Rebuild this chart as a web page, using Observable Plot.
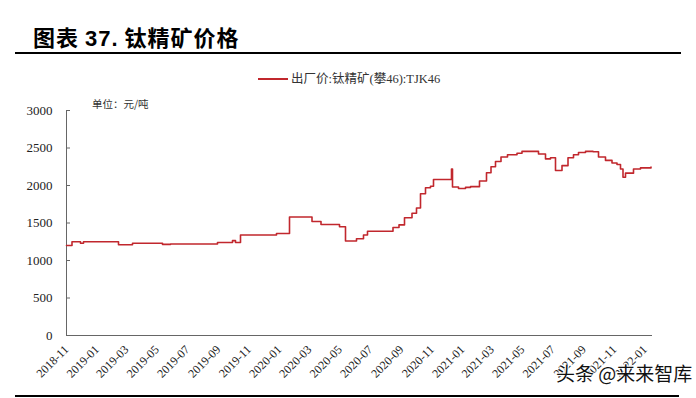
<!DOCTYPE html>
<html><head><meta charset="utf-8">
<script src="https://cdn.jsdelivr.net/npm/d3@7"></script>
<script src="https://cdn.jsdelivr.net/npm/@observablehq/plot@0.6"></script>
<style>
body{margin:0;background:#fff;}
#wrap{position:relative;width:696px;height:398px;overflow:hidden;background:#fff;}
#title{position:absolute;left:33px;top:22px;font-family:"Noto Sans CJK SC",sans-serif;font-weight:bold;font-size:22px;color:#000;line-height:28px;letter-spacing:1px;}
#title .num{font-family:"Liberation Sans",Arial,sans-serif;}
#topline{position:absolute;left:15px;top:52px;width:666px;height:2px;background:#000;}
#botline{position:absolute;left:15px;top:395px;width:664px;height:2px;background:#000;}
#legend{position:absolute;left:258px;top:71px;font-family:"Liberation Serif","Noto Sans CJK SC",serif;font-size:12.5px;color:#333;line-height:16px;white-space:nowrap;}
#legend .sw{display:inline-block;width:30px;height:2px;background:#c1272d;vertical-align:middle;margin-right:3px;position:relative;top:-1px;}
#unit{position:absolute;left:92px;top:96px;font-family:"Noto Sans CJK SC",sans-serif;font-size:10.5px;color:#333;white-space:nowrap;}
#wm{position:absolute;left:556px;top:359px;font-family:"Noto Sans CJK SC",sans-serif;font-size:19px;color:#111;white-space:nowrap;text-shadow:0 0 2px #fff,0 0 2px #fff,1px 1px 0 #fff,-1px -1px 0 #fff;}
#chart{position:absolute;left:0;top:0;}
</style></head><body>
<div id="wrap">
<div id="chart"></div>
<div id="title">图表 <span class="num">37.</span> 钛精矿价格</div>
<div id="topline"></div>
<div id="legend"><span class="sw"></span>出厂价:钛精矿(攀46):TJK46</div>
<div id="unit">单位：元/吨</div>
<div id="botline"></div>
<div id="wm">头条 @来来智库</div>
</div>
<script>
const dates = ["2018-11-01","2018-11-12","2018-11-29","2018-12-05","2019-02-13","2019-03-13","2019-05-12","2019-05-28","2019-08-30","2019-09-29","2019-10-05","2019-10-15","2019-12-26","2020-01-21","2020-03-06","2020-03-24","2020-04-30","2020-05-12","2020-06-03","2020-06-17","2020-06-25","2020-08-15","2020-08-27","2020-09-07","2020-09-22","2020-10-01","2020-10-09","2020-10-19","2020-10-29","2020-11-04","2020-12-10","2020-12-12","2020-12-24","2021-01-07","2021-01-17","2021-02-04","2021-02-18","2021-02-27","2021-03-08","2021-03-19","2021-04-01","2021-04-20","2021-04-30","2021-06-02","2021-06-16","2021-06-26","2021-07-06","2021-07-19","2021-07-31","2021-08-11","2021-08-21","2021-09-04","2021-09-19","2021-09-30","2021-10-14","2021-10-27","2021-11-06","2021-11-13","2021-11-18","2021-11-23","2021-12-09","2021-12-23","2022-01-13"];
const prices = [1200,1250,1230,1250,1210,1230,1215,1220,1240,1265,1240,1340,1360,1580,1520,1480,1450,1260,1290,1340,1390,1440,1475,1570,1630,1700,1890,1970,1990,2080,2220,1980,1960,1975,1985,2060,2170,2250,2320,2380,2410,2430,2455,2420,2355,2370,2200,2265,2370,2410,2440,2455,2450,2380,2335,2300,2280,2220,2110,2165,2220,2235,2245];
const tickLabels = ["2018-11","2019-01","2019-03","2019-05","2019-07","2019-09","2019-11","2020-01","2020-03","2020-05","2020-07","2020-09","2020-11","2021-01","2021-03","2021-05","2021-07","2021-09","2021-11","2022-01"];
const yTicks = [0,500,1000,1500,2000,2500,3000];
const xStart = "2018-11-01", xEnd = "2022-01-16";

const parse = d3.utcParse("%Y-%m-%d");
const data = dates.map((d,i)=>({date: parse(d), price: prices[i]}));
const tickDates = tickLabels.map(s => d3.utcParse("%Y-%m")(s));

const chart = Plot.plot({
  width: 696, height: 398,
  marginLeft: 66, marginRight: 44, marginTop: 110, marginBottom: 63,
  style: {fontFamily: "'Liberation Serif','Times New Roman',serif", fontSize: "13px", color: "#222", background: "transparent"},
  x: {type: "utc", domain: [parse(xStart), parse(xEnd)]},
  y: {domain: [0, 3000]},
  marks: [
    Plot.axisY({ticks: yTicks, tickSize: -4, tickPadding: 18, tickFormat: d => String(d), stroke: "#666", label: null, fontSize: 13}),
    Plot.axisX({ticks: tickDates, tickFormat: d3.utcFormat("%Y-%m"), tickRotate: -45, tickSize: 0, tickPadding: 12, label: null, fontSize: 12}),
    Plot.ruleY([0], {stroke: "#666", strokeWidth: 1}),
    Plot.ruleX([parse(xStart)], {stroke: "#666", strokeWidth: 1}),
    Plot.line(data, {x: "date", y: "price", stroke: "#c1272d", strokeWidth: 1.6, curve: "step-after"})
  ]
});
document.getElementById("chart").appendChild(chart);
</script>
</body></html>
